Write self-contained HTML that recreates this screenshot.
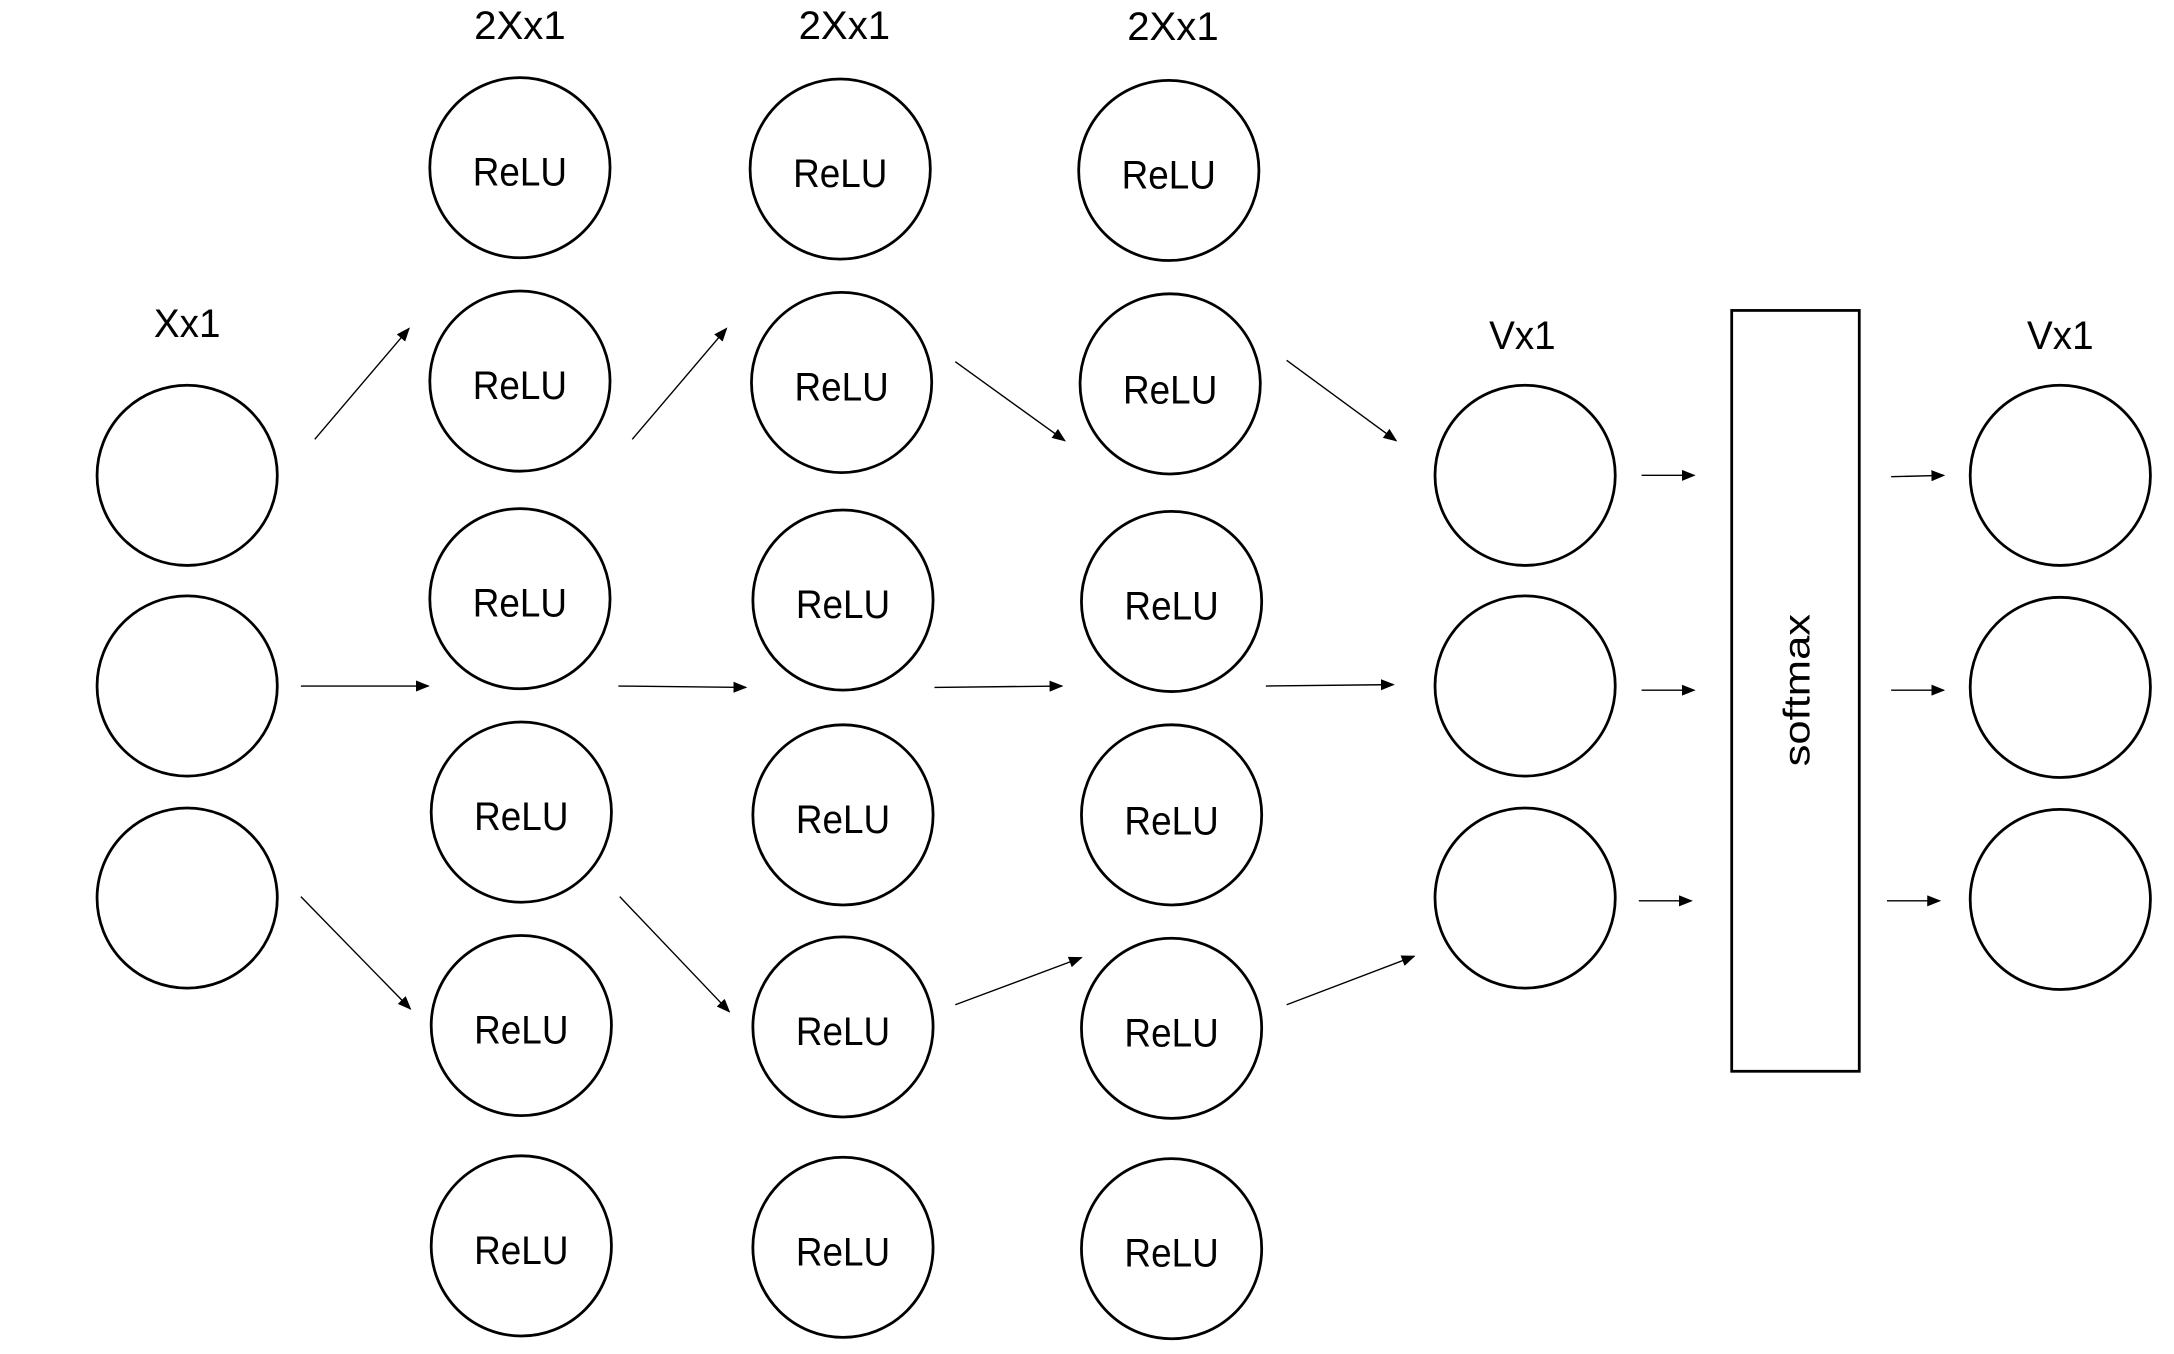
<!DOCTYPE html>
<html><head><meta charset="utf-8"><style>html,body{margin:0;padding:0;background:#fff}svg{display:block}</style></head>
<body>
<svg width="2174" height="1354" viewBox="0 0 1568 977" preserveAspectRatio="none" xmlns="http://www.w3.org/2000/svg" font-family="Liberation Sans, sans-serif">
<defs><marker id="a" markerWidth="10" markerHeight="8" refX="9" refY="4" orient="auto" markerUnits="userSpaceOnUse"><path d="M0,0 L10,4 L0,8 Z" fill="#000"/></marker></defs>
<g fill="none" stroke="#000" stroke-width="2">
<circle cx="135" cy="343" r="65"/><circle cx="135" cy="495" r="65"/><circle cx="135" cy="648" r="65"/>
<circle cx="375" cy="121" r="65"/><circle cx="375" cy="275" r="65"/><circle cx="375" cy="432" r="65"/><circle cx="376" cy="586" r="65"/><circle cx="376" cy="740" r="65"/><circle cx="376" cy="899" r="65"/>
<circle cx="606" cy="122" r="65"/><circle cx="607" cy="276" r="65"/><circle cx="608" cy="433" r="65"/><circle cx="608" cy="588" r="65"/><circle cx="608" cy="741" r="65"/><circle cx="608" cy="900" r="65"/>
<circle cx="843" cy="123" r="65"/><circle cx="844" cy="277" r="65"/><circle cx="845" cy="434" r="65"/><circle cx="845" cy="588" r="65"/><circle cx="845" cy="742" r="65"/><circle cx="845" cy="901" r="65"/>
<circle cx="1100" cy="343" r="65"/><circle cx="1100" cy="495" r="65"/><circle cx="1100" cy="648" r="65"/>
<circle cx="1486" cy="343" r="65"/><circle cx="1486" cy="496" r="65"/><circle cx="1486" cy="649" r="65"/>
<rect x="1249" y="224" width="92" height="549"/>
</g>
<g stroke="#000" stroke-width="1" marker-end="url(#a)">
<line x1="227" y1="317" x2="295" y2="237"/><line x1="217" y1="495" x2="309" y2="495"/><line x1="217" y1="647" x2="296" y2="728"/>
<line x1="456" y1="317" x2="524" y2="237"/><line x1="446" y1="495" x2="538" y2="496"/><line x1="447" y1="647" x2="526" y2="730"/>
<line x1="689" y1="261" x2="768" y2="318"/><line x1="674" y1="496" x2="766" y2="495"/><line x1="689" y1="725" x2="780" y2="691"/>
<line x1="928" y1="260" x2="1007" y2="318"/><line x1="913" y1="495" x2="1005" y2="494"/><line x1="928" y1="725" x2="1020" y2="690"/>
<line x1="1184" y1="343" x2="1222" y2="343"/><line x1="1184" y1="498" x2="1222" y2="498"/><line x1="1182" y1="650" x2="1220" y2="650"/>
<line x1="1364" y1="344" x2="1402" y2="343"/><line x1="1364" y1="498" x2="1402" y2="498"/><line x1="1361" y1="650" x2="1399" y2="650"/>
</g>
<g font-size="29" text-anchor="middle" fill="#000">
<text x="375" y="134" textLength="68" lengthAdjust="spacingAndGlyphs">ReLU</text>
<text x="375" y="288" textLength="68" lengthAdjust="spacingAndGlyphs">ReLU</text>
<text x="375" y="445" textLength="68" lengthAdjust="spacingAndGlyphs">ReLU</text>
<text x="376" y="599" textLength="68" lengthAdjust="spacingAndGlyphs">ReLU</text>
<text x="376" y="753" textLength="68" lengthAdjust="spacingAndGlyphs">ReLU</text>
<text x="376" y="912" textLength="68" lengthAdjust="spacingAndGlyphs">ReLU</text>
<text x="606" y="135" textLength="68" lengthAdjust="spacingAndGlyphs">ReLU</text>
<text x="607" y="289" textLength="68" lengthAdjust="spacingAndGlyphs">ReLU</text>
<text x="608" y="446" textLength="68" lengthAdjust="spacingAndGlyphs">ReLU</text>
<text x="608" y="601" textLength="68" lengthAdjust="spacingAndGlyphs">ReLU</text>
<text x="608" y="754" textLength="68" lengthAdjust="spacingAndGlyphs">ReLU</text>
<text x="608" y="913" textLength="68" lengthAdjust="spacingAndGlyphs">ReLU</text>
<text x="843" y="136" textLength="68" lengthAdjust="spacingAndGlyphs">ReLU</text>
<text x="844" y="291" textLength="68" lengthAdjust="spacingAndGlyphs">ReLU</text>
<text x="845" y="447" textLength="68" lengthAdjust="spacingAndGlyphs">ReLU</text>
<text x="845" y="602" textLength="68" lengthAdjust="spacingAndGlyphs">ReLU</text>
<text x="845" y="755" textLength="68" lengthAdjust="spacingAndGlyphs">ReLU</text>
<text x="845" y="914" textLength="68" lengthAdjust="spacingAndGlyphs">ReLU</text>
<text x="135" y="243" textLength="48" lengthAdjust="spacingAndGlyphs">Xx1</text>
<text x="375" y="28" textLength="66" lengthAdjust="spacingAndGlyphs">2Xx1</text>
<text x="609" y="28" textLength="66" lengthAdjust="spacingAndGlyphs">2Xx1</text>
<text x="846" y="29" textLength="66" lengthAdjust="spacingAndGlyphs">2Xx1</text>
<text x="1098" y="252" textLength="48" lengthAdjust="spacingAndGlyphs">Vx1</text>
<text x="1486" y="252" textLength="48" lengthAdjust="spacingAndGlyphs">Vx1</text>
<text x="0" y="0" font-size="27" transform="translate(1305,498) rotate(-90)" textLength="110" lengthAdjust="spacingAndGlyphs">softmax</text>
</g>
</svg>
</body></html>
